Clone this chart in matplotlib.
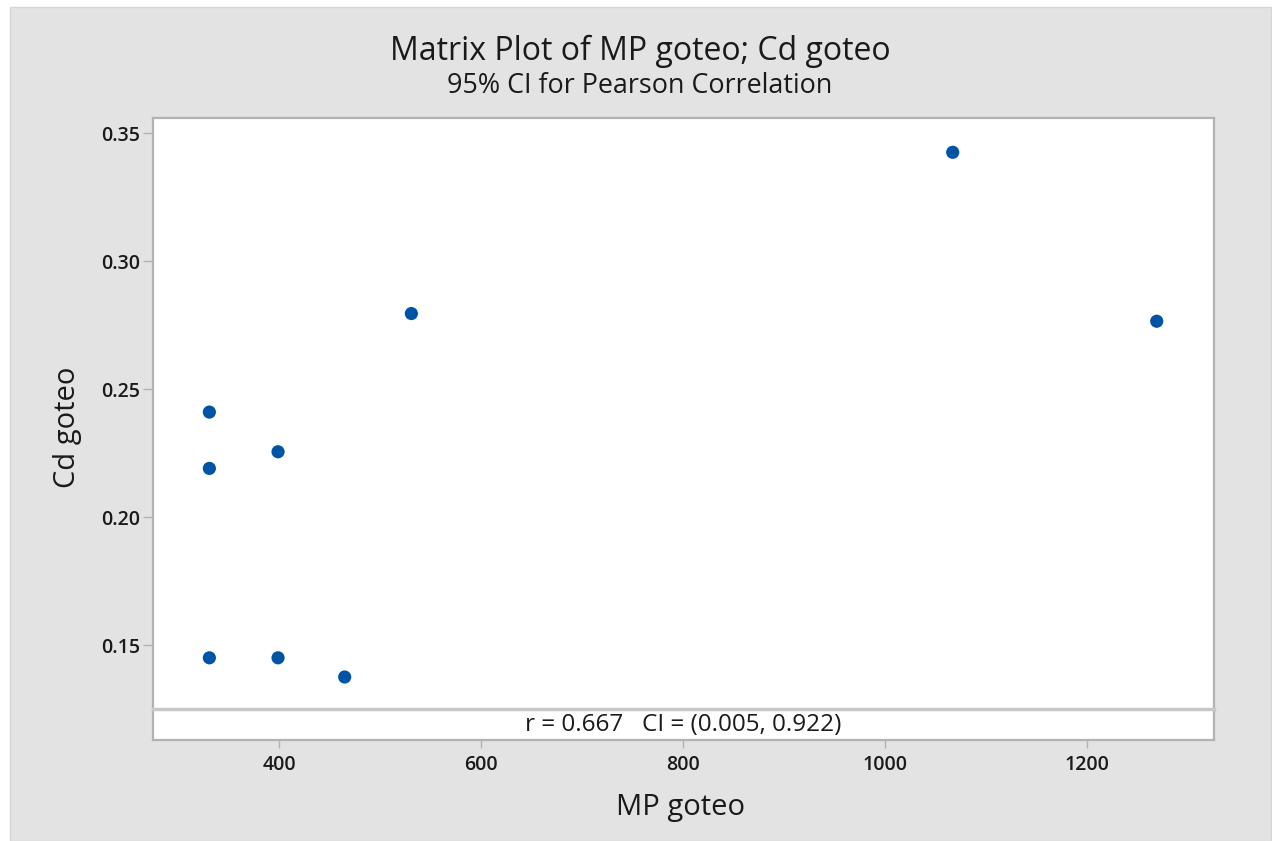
import matplotlib
matplotlib.use("Agg")
import matplotlib.pyplot as plt
from matplotlib.patches import Rectangle

# Data: drip-irrigation MP vs Cd
mp_goteo = [331, 331, 399, 531, 1067, 1269, 331, 399, 465]
cd_goteo = [0.241, 0.219, 0.2255, 0.2795, 0.3425, 0.2765, 0.145, 0.145, 0.1375]

x_ticks = [400, 600, 800, 1000, 1200]
y_ticks = [0.15, 0.20, 0.25, 0.30, 0.35]
y_tick_labels = ["0.15", "0.20", "0.25", "0.30", "0.35"]

title = "Matrix Plot of MP goteo; Cd goteo"
subtitle = "95% CI for Pearson Correlation"
corr_text = "r = 0.667  CI = (0.005, 0.922)"

plt.rcParams["font.family"] = ["Open Sans", "DejaVu Sans"]

W, H = 1272, 841
fig = plt.figure(figsize=(W / 100, H / 100), dpi=100)
fig.patch.set_facecolor("white")

# gray backdrop panel behind everything
fig.patches.append(Rectangle((10 / W, 0), (W - 11) / W, 1 - 7 / H,
                             transform=fig.transFigure, facecolor="#e3e3e3",
                             edgecolor="#d6d6d6", linewidth=1.0, zorder=-10))

frame_col = "#b2b2b2"
dot_col = "#0054a6"
txt_col = "#1a1a1a"


def fx(px):
    return px / W


def fy(py):
    return 1 - py / H


left, right = 153, 1214
top, sep, bottom = 118, 709, 740

ax = fig.add_axes([fx(left), fy(sep), fx(right) - fx(left), fy(top) - fy(sep)])
ax_s = fig.add_axes([fx(left), fy(bottom), fx(right) - fx(left), fy(sep) - fy(bottom)],
                    sharex=ax)
ax.set_zorder(2)
ax_s.set_zorder(1)

ax.scatter(mp_goteo, cd_goteo, s=90, color=dot_col, edgecolors="none", zorder=3)

ax.set_xlim(275.2, 1325.7)
ax.set_ylim(0.125, 0.3559)
ax.set_yticks(y_ticks)
ax.set_yticklabels(y_tick_labels, fontweight="semibold")
ax.tick_params(axis="y", direction="out", length=7, width=1, color=frame_col,
               labelsize=14, labelcolor=txt_col, pad=2)
ax.tick_params(axis="x", bottom=False, labelbottom=False)
for sp in ax.spines.values():
    sp.set_color(frame_col)
    sp.set_linewidth(1.6)
ax.spines["bottom"].set_linewidth(2.5)
ax.spines["bottom"].set_color("#c8c8c8")

ax_s.set_ylim(0, 1)
ax_s.set_yticks([])
ax_s.set_xticks(x_ticks)
ax_s.set_xticklabels([str(v) for v in x_ticks], fontweight="semibold")
ax_s.tick_params(axis="x", direction="out", length=6, width=1, color=frame_col,
                 labelsize=14, labelcolor=txt_col, pad=5)
for sp in ax_s.spines.values():
    sp.set_color(frame_col)
    sp.set_linewidth(1.6)
ax_s.spines["top"].set_visible(False)
ax_s.text(0.5, 0.47, corr_text.replace("  ", "   "), transform=ax_s.transAxes,
          ha="center", va="center", fontsize=17.5, color=txt_col)

fig.text(fx(640), fy(60), title, ha="center", va="baseline", fontsize=23,
         color=txt_col)
fig.text(fx(640), fy(93), subtitle, ha="center", va="baseline", fontsize=19.4,
         color=txt_col)
fig.text(fx(681), fy(815), "MP goteo", ha="center", va="baseline", fontsize=21,
         color=txt_col)
fig.text(fx(68), fy(427), "Cd goteo", ha="center", va="center", fontsize=21,
         rotation=90, color=txt_col)

fig.savefig("out.png", dpi=100, facecolor=fig.get_facecolor())
